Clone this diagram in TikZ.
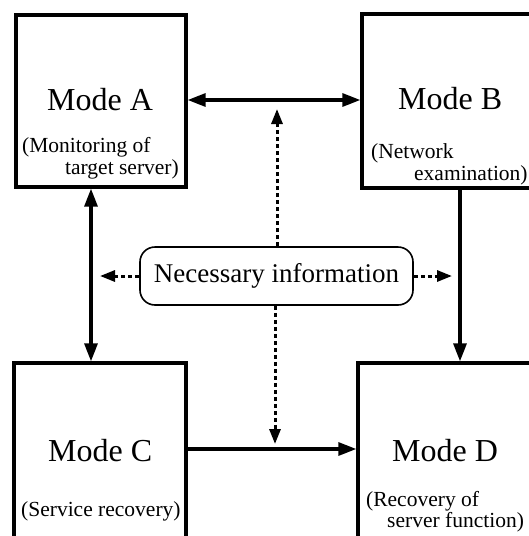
\documentclass[tikz,border=0pt]{standalone}
\usepackage{fontspec}
\setmainfont{Liberation Serif}
\usetikzlibrary{arrows.meta}
\begin{document}
\begin{tikzpicture}[x=1pt,y=-1pt,
  modebox/.style={draw,line width=3.3pt,minimum width=#1,inner sep=0pt},
  title/.style={font=\fontsize{32}{36}\selectfont,anchor=base west,inner sep=0pt},
  sub/.style={font=\fontsize{21.5}{24}\selectfont,anchor=base west,inner sep=0pt},
  infobox/.style={draw,line width=1.6pt,rounded corners=15pt,minimum width=273pt,minimum height=58pt,inner sep=0pt,font=\fontsize{27}{30}\selectfont},
  flow/.style={line width=3.2pt,-{Triangle[length=18pt,width=13pt]}},
  flow2/.style={line width=3.2pt,{Triangle[length=18pt,width=13pt]}-{Triangle[length=18pt,width=13pt]}},
  info/.style={line width=3pt,dash pattern=on 4pt off 3pt,-{Triangle[length=15pt,width=11pt]}}
]
\useasboundingbox (0,0) rectangle (529,536);
\clip (0,0) rectangle (529,536);
% boxes
\node[modebox=170pt,minimum height=172pt] (A) at (101,101) {};
\node[modebox=171pt,minimum height=174pt] (B) at (447.5,101) {};
\node[modebox=172pt,minimum height=177pt] (C) at (100,451.5) {};
\node[modebox=175pt,minimum height=177pt] (D) at (445.5,451.5) {};
% texts
\node[title] (tA) at (47,110) {Mode A};
\node[sub] (sA1) at (22,152) {(Monitoring of};
\node[sub] (sA2) at (65,174) {target server)};
\node[title] (tB) at (398,109) {Mode B};
\node[sub] (sB1) at (371,158) {(Network};
\node[sub] (sB2) at (414,180) {examination)};
\node[title] (tC) at (48,461) {Mode C};
\node[sub] (sC1) at (21,516) {(Service recovery)};
\node[title] (tD) at (392,461) {Mode D};
\node[sub] (sD1) at (366,506) {(Recovery of};
\node[sub] (sD2) at (387,527) {server function)};
% info
\node[infobox] (N) at (276.5,276) {Necessary information};
\coordinate (ac) at (91,0);
\coordinate (bd) at (460,0);
\coordinate (up) at (277,109);
\coordinate (down) at (275,444);
\coordinate (left) at (100,276);
\coordinate (right) at (452,276);
% connectors
\draw[flow2] ([yshift=1pt]A.east) -- ([yshift=1pt]B.west);
\draw[flow] ([yshift=2.5pt]C.east) -- ([yshift=2.5pt]D.west);
\draw[flow2] (A.south -| ac) -- (C.north -| ac);
\draw[flow] (B.south -| bd) -- (D.north -| bd);
\draw[info] (N.west) -- (left);
\draw[info] (N.east) -- (right);
\draw[info] (N.north -| up) -- (up);
\draw[info] (N.south -| down) -- (down);
\end{tikzpicture}
\end{document}
